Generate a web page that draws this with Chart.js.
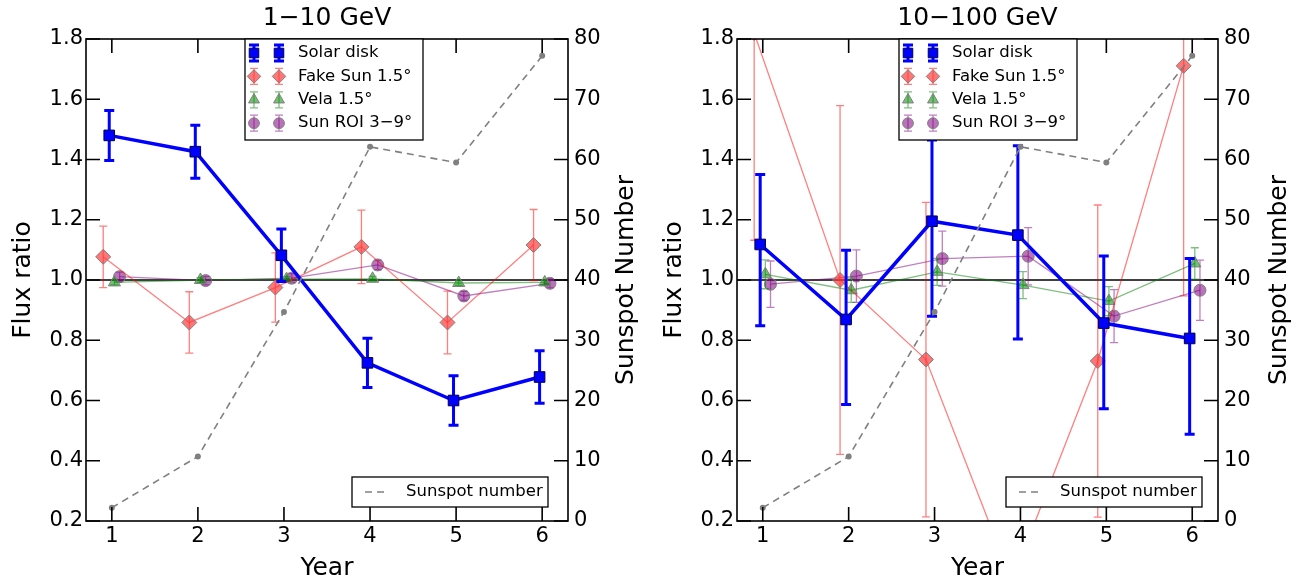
<!DOCTYPE html>
<html>
<head>
<meta charset="utf-8">
<script src="https://cdn.jsdelivr.net/npm/chart.js@4.4.1/dist/chart.umd.min.js"></script>
<style>
  body { margin: 0; background: #fff; }
  #wrap { position: relative; width: 1296px; height: 585px; }
  canvas { position: absolute; top: 0; }
</style>
</head>
<body>
<div id="wrap">
  <canvas id="low" width="648" height="585" style="left:0"></canvas>
  <canvas id="high" width="648" height="585" style="left:648px"></canvas>
</div>
<script>
// axis ticks and labels
const years = [1, 2, 3, 4, 5, 6];
const yearTicks = [1, 2, 3, 4, 5, 6];
const fluxTicks = [0.2, 0.4, 0.6, 0.8, 1.0, 1.2, 1.4, 1.6, 1.8];
const sunspotTicks = [0, 10, 20, 30, 40, 50, 60, 70, 80];
const seriesLabels = ['Solar disk', 'Fake Sun 1.5\u00b0', 'Vela 1.5\u00b0', 'Sun ROI 3\u22129\u00b0'];
const sunspotLabel = 'Sunspot number';
const sunspotAxisTitle = 'Sunspot Number';

// sunspot number, same in both panels
const sunspotNumber = [2.2, 10.7, 34.7, 62.1, 59.5, 77.2];

// 1-10 GeV
const lowSolar = [1.480, 1.426, 1.082, 0.725, 0.600, 0.678];
const lowSolarErr = [0.083, 0.088, 0.087, 0.082, 0.082, 0.087];
const lowFake = [1.077, 0.859, 0.975, 1.110, 0.859, 1.116];
const lowFakeErr = [0.102, 0.102, 0.115, 0.122, 0.104, 0.118];
const lowVela = [0.992, 1.000, 1.003, 1.004, 0.990, 0.992];
const lowVelaErr = [0.008, 0.008, 0.008, 0.008, 0.008, 0.008];
const lowRoi = [1.011, 0.998, 1.006, 1.050, 0.947, 0.989];
const lowRoiErr = [0.015, 0.014, 0.015, 0.016, 0.015, 0.015];

// 10-100 GeV
const highSolar = [1.118, 0.869, 1.195, 1.149, 0.857, 0.806];
const highSolarErrUp = [0.232, 0.230, 0.270, 0.297, 0.223, 0.265];
const highSolarErrDown = [0.270, 0.282, 0.315, 0.345, 0.284, 0.318];
const highFake = [1.820, 1.000, 0.736, 0.000, 0.731, 1.711];
const highFakeErr = [0.688, 0.579, 0.522, 0.120, 0.518, 0.764];
const highVela = [1.019, 0.966, 1.027, 0.983, 0.930, 1.055];
const highVelaErr = [0.048, 0.040, 0.045, 0.045, 0.048, 0.052];
const highRoi = [0.986, 1.013, 1.071, 1.079, 0.880, 0.966];
const highRoiErr = [0.077, 0.087, 0.091, 0.095, 0.088, 0.100];

Chart.defaults.font.family = '"DejaVu Sans", sans-serif';
Chart.defaults.color = '#000';

// small x shift of each series so the error bars don't overlap
const shift = { solar: -0.03, fake: -0.1, vela: 0.03, roi: 0.09 };

const solarStyle = {
  borderColor: '#0000ff', borderWidth: 3.5,
  pointStyle: 'rect', pointRadius: 7.5,
  pointBackgroundColor: '#0000ff', pointBorderColor: '#000044', pointBorderWidth: 1,
  errColor: '#0000ff', errWidth: 3, capSize: 5, order: 1
};
const fakeStyle = {
  borderColor: 'rgba(255,0,0,0.5)', borderWidth: 1.3,
  pointStyle: 'rectRot', pointRadius: 7.5,
  pointBackgroundColor: 'rgba(255,60,60,0.7)', pointBorderColor: '#808080', pointBorderWidth: 1,
  errColor: 'rgba(255,0,0,0.5)', errWidth: 1.3, capSize: 4, order: 2
};
const velaStyle = {
  borderColor: 'rgba(0,128,0,0.5)', borderWidth: 1.3,
  pointStyle: 'triangle', pointRadius: 7,
  pointBackgroundColor: 'rgba(0,140,0,0.55)', pointBorderColor: '#808080', pointBorderWidth: 1,
  errColor: 'rgba(0,128,0,0.5)', errWidth: 1.3, capSize: 4, order: 3
};
const roiStyle = {
  borderColor: 'rgba(128,0,128,0.5)', borderWidth: 1.3,
  pointStyle: 'circle', pointRadius: 6,
  pointBackgroundColor: 'rgba(128,0,128,0.55)', pointBorderColor: '#808080', pointBorderWidth: 1,
  errColor: 'rgba(128,0,128,0.5)', errWidth: 1.3, capSize: 4, order: 4
};
const sunspotStyle = {
  borderColor: '#808080', borderWidth: 1.6, borderDash: [7, 5],
  pointStyle: 'circle', pointRadius: 3,
  pointBackgroundColor: '#808080', pointBorderWidth: 0, order: 0
};

function series(label, values, errUp, errDown, dx, style) {
  return Object.assign({
    label: label,
    data: values.map((v, i) => ({ x: years[i] + dx, y: v })),
    errUp: errUp,
    errDown: errDown,
    yAxisID: 'y',
    clip: 0
  }, style);
}

function sunspotSeries() {
  return Object.assign({
    label: sunspotLabel,
    data: sunspotNumber.map((v, i) => ({ x: years[i], y: v })),
    yAxisID: 'y2',
    clip: 0
  }, sunspotStyle);
}

// draws error bars under each dataset
const errorBars = {
  id: 'errorBars',
  beforeDatasetDraw(chart, args) {
    const ds = chart.data.datasets[args.index];
    if (!ds.errUp) return;
    const yScale = chart.scales[ds.yAxisID];
    const a = chart.chartArea;
    const ctx = chart.ctx;
    ctx.save();
    ctx.beginPath();
    ctx.rect(a.left, a.top, a.right - a.left, a.bottom - a.top);
    ctx.clip();
    ctx.strokeStyle = ds.errColor;
    ctx.lineWidth = ds.errWidth;
    args.meta.data.forEach((pt, i) => {
      const v = ds.data[i].y;
      const top = yScale.getPixelForValue(v + ds.errUp[i]);
      const bot = yScale.getPixelForValue(v - ds.errDown[i]);
      ctx.beginPath();
      ctx.moveTo(pt.x, top); ctx.lineTo(pt.x, bot);
      ctx.moveTo(pt.x - ds.capSize, top); ctx.lineTo(pt.x + ds.capSize, top);
      ctx.moveTo(pt.x - ds.capSize, bot); ctx.lineTo(pt.x + ds.capSize, bot);
      ctx.stroke();
    });
    ctx.restore();
  }
};

// line at ratio 1, box around the plot, inward ticks
const frame = {
  id: 'frame',
  beforeDatasetsDraw(chart) {
    const { ctx, chartArea: a, scales } = chart;
    const py = scales.y.getPixelForValue(1.0);
    ctx.save();
    ctx.strokeStyle = '#000';
    ctx.lineWidth = 1.5;
    ctx.beginPath();
    ctx.moveTo(a.left, py); ctx.lineTo(a.right, py);
    ctx.stroke();
    ctx.restore();
  },
  afterDatasetsDraw(chart) {
    const { ctx, chartArea: a, scales } = chart;
    const len = 14;
    ctx.save();
    ctx.strokeStyle = '#000';
    ctx.lineWidth = 1.6;
    ctx.beginPath();
    scales.x.ticks.forEach(t => {
      const px = scales.x.getPixelForValue(t.value);
      ctx.moveTo(px, a.bottom); ctx.lineTo(px, a.bottom - len);
      ctx.moveTo(px, a.top); ctx.lineTo(px, a.top + len);
    });
    scales.y.ticks.forEach(t => {
      const py = scales.y.getPixelForValue(t.value);
      ctx.moveTo(a.left, py); ctx.lineTo(a.left + len, py);
    });
    scales.y2.ticks.forEach(t => {
      const py = scales.y2.getPixelForValue(t.value);
      ctx.moveTo(a.right, py); ctx.lineTo(a.right - len, py);
    });
    ctx.stroke();
    ctx.strokeRect(a.left, a.top, a.right - a.left, a.bottom - a.top);
    ctx.restore();
  }
};

function legendMarker(ctx, ds, x, y) {
  ctx.save();
  ctx.strokeStyle = ds.errColor;
  ctx.lineWidth = ds.errWidth;
  ctx.beginPath();
  ctx.moveTo(x, y - 8); ctx.lineTo(x, y + 8);
  ctx.moveTo(x - ds.capSize, y - 8); ctx.lineTo(x + ds.capSize, y - 8);
  ctx.moveTo(x - ds.capSize, y + 8); ctx.lineTo(x + ds.capSize, y + 8);
  ctx.stroke();
  ctx.fillStyle = ds.pointBackgroundColor;
  ctx.strokeStyle = ds.pointBorderColor;
  ctx.lineWidth = ds.pointBorderWidth;
  Chart.helpers.drawPoint(ctx, {
    pointStyle: ds.pointStyle, radius: ds.pointRadius * 0.9,
    rotation: 0, borderWidth: ds.pointBorderWidth
  }, x, y);
  ctx.restore();
}

function legends(L) {
  return {
    id: 'legends',
    afterDraw(chart) {
      const { ctx, chartArea: a, width } = chart;
      const flux = chart.data.datasets.filter(d => d.yAxisID === 'y');
      const spot = chart.data.datasets.find(d => d.yAxisID === 'y2');
      ctx.save();

      // right axis title, read bottom to top like the left one
      ctx.font = '25px "DejaVu Sans"';
      ctx.fillStyle = '#000';
      ctx.textAlign = 'center';
      ctx.textBaseline = 'middle';
      ctx.translate(width - L.rightTitleOffset, (a.top + a.bottom) / 2);
      ctx.rotate(-Math.PI / 2);
      ctx.fillText(sunspotAxisTitle, 0, 0);
      ctx.setTransform(1, 0, 0, 1, 0, 0);

      ctx.font = '16.5px "DejaVu Sans"';
      ctx.textBaseline = 'middle';
      ctx.textAlign = 'left';

      // upper legend
      const lx = a.left + L.legendDx, ly = a.top, lw = 178, lh = 101;
      ctx.fillStyle = '#fff';
      ctx.fillRect(lx, ly, lw, lh);
      ctx.strokeStyle = '#000';
      ctx.lineWidth = 1.3;
      ctx.strokeRect(lx, ly, lw, lh);
      flux.forEach((ds, i) => {
        const ry = ly + 14 + i * 23.4;
        legendMarker(ctx, ds, lx + 9, ry);
        legendMarker(ctx, ds, lx + 34, ry);
        ctx.fillStyle = '#000';
        ctx.fillText(ds.label, lx + 53, ry);
      });

      // sunspot legend
      const sw = 196, sh = 30;
      const sx = a.right - L.spotGap - sw, sy = a.bottom - 14 - sh;
      ctx.fillStyle = '#fff';
      ctx.fillRect(sx, sy, sw, sh);
      ctx.strokeStyle = '#000';
      ctx.lineWidth = 1.3;
      ctx.strokeRect(sx, sy, sw, sh);
      ctx.strokeStyle = spot.borderColor;
      ctx.lineWidth = spot.borderWidth;
      ctx.setLineDash(spot.borderDash);
      ctx.beginPath();
      ctx.moveTo(sx + 13, sy + sh / 2); ctx.lineTo(sx + 36, sy + sh / 2);
      ctx.stroke();
      ctx.setLineDash([]);
      ctx.fillStyle = '#000';
      ctx.fillText(spot.label, sx + 54, sy + sh / 2);
      ctx.restore();
    }
  };
}

function makeChart(id, title, datasets, L) {
  return new Chart(document.getElementById(id), {
    type: 'line',
    data: { datasets: datasets },
    options: {
      responsive: false,
      animation: false,
      devicePixelRatio: 1,
      layout: { padding: 0 },
      plugins: {
        legend: { display: false },
        tooltip: { enabled: false },
        title: {
          display: true, text: title, fullSize: false,
          font: { size: 25, weight: 'normal' }, color: '#000',
          padding: { top: 3, bottom: 6 }
        }
      },
      scales: {
        x: {
          type: 'linear', min: 0.7, max: 6.3,
          afterBuildTicks: s => { s.ticks = yearTicks.map(v => ({ value: v })); },
          afterFit: s => { s.height = 64; },
          grid: { display: false, drawTicks: false },
          border: { display: false },
          ticks: { font: { size: 21 }, color: '#000', padding: 3, maxRotation: 0, autoSkip: false,
                   callback: v => String(v) },
          title: { display: true, text: 'Year', font: { size: 25 }, color: '#000',
                   padding: { top: 0, bottom: 2 } }
        },
        y: {
          type: 'linear', position: 'left', min: 0.2, max: 1.8,
          afterBuildTicks: s => { s.ticks = fluxTicks.map(v => ({ value: v })); },
          afterFit: s => { s.width = L.leftW; },
          grid: { display: false, drawTicks: false },
          border: { display: false },
          ticks: { font: { size: 21 }, color: '#000', padding: 3, autoSkip: false,
                   callback: v => v.toFixed(1) },
          title: { display: true, text: 'Flux ratio', font: { size: 25 }, color: '#000',
                   padding: { top: L.leftTitlePad, bottom: 0 } }
        },
        y2: {
          type: 'linear', position: 'right', min: 0, max: 80,
          afterBuildTicks: s => { s.ticks = sunspotTicks.map(v => ({ value: v })); },
          afterFit: s => { s.width = L.rightW; },
          grid: { display: false, drawTicks: false },
          border: { display: false },
          ticks: { font: { size: 21 }, color: '#000', padding: 6, autoSkip: false,
                   callback: v => String(v) }
        }
      }
    },
    plugins: [errorBars, frame, legends(L)]
  });
}

makeChart('low', '1\u221210 GeV', [
  series(seriesLabels[0], lowSolar, lowSolarErr, lowSolarErr, shift.solar, solarStyle),
  series(seriesLabels[1], lowFake, lowFakeErr, lowFakeErr, shift.fake, fakeStyle),
  series(seriesLabels[2], lowVela, lowVelaErr, lowVelaErr, shift.vela, velaStyle),
  series(seriesLabels[3], lowRoi, lowRoiErr, lowRoiErr, shift.roi, roiStyle),
  sunspotSeries()
], { leftW: 86, rightW: 80, leftTitlePad: 8, rightTitleOffset: 22, legendDx: 159, spotGap: 20 });

makeChart('high', '10\u2212100 GeV', [
  series(seriesLabels[0], highSolar, highSolarErrUp, highSolarErrDown, shift.solar, solarStyle),
  series(seriesLabels[1], highFake, highFakeErr, highFakeErr, shift.fake, fakeStyle),
  series(seriesLabels[2], highVela, highVelaErr, highVelaErr, shift.vela, velaStyle),
  series(seriesLabels[3], highRoi, highRoiErr, highRoiErr, shift.roi, roiStyle),
  sunspotSeries()
], { leftW: 89, rightW: 78, leftTitlePad: 11, rightTitleOffset: 17, legendDx: 162, spotGap: 16 });
</script>
</body>
</html>
